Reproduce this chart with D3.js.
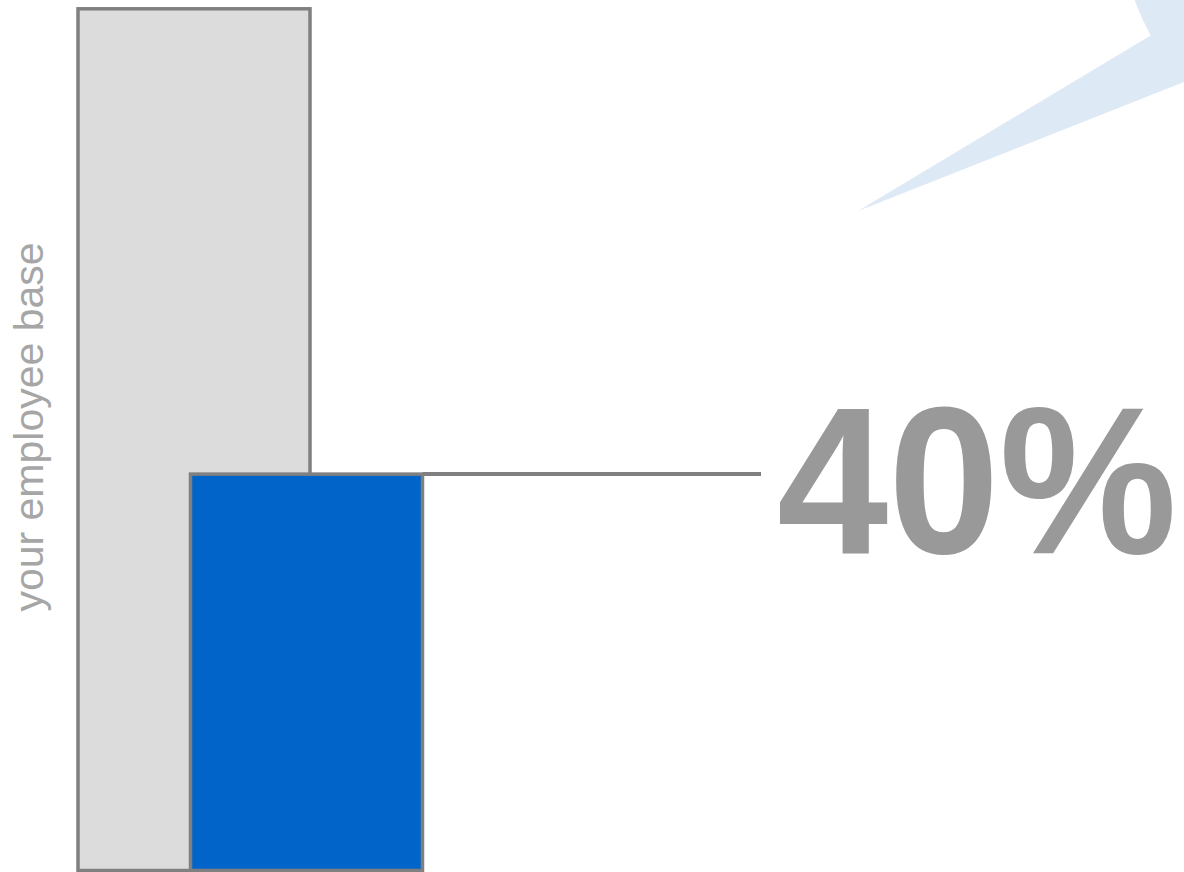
<!DOCTYPE html>
<html>
<head>
<meta charset="utf-8">
<script src="https://cdn.jsdelivr.net/npm/d3@7"></script>
<style>
  html, body { margin: 0; padding: 0; background: #fff; }
  svg { display: block; }
</style>
</head>
<body>
<div id="chart"></div>
<script>
// Chart data
const categories = ["your employee base", "share"];
const values = [100, 46];            // bar heights as drawn (percent of base)
const barColors = ["#dcdcdc", "#0064c9"];
const calloutLabel = "40%";
const axisLabel = "your employee base";

const width = 1184;
const height = 872;

const svg = d3.select("#chart")
  .append("svg")
  .attr("width", width)
  .attr("height", height);

// Speech bubble in the corner
const bubble = svg.append("g").attr("fill", "#dee9f6");
bubble.append("circle")
  .attr("cx", 1360)
  .attr("cy", -80)
  .attr("r", 239);
bubble.append("path")
  .attr("d", d3.line()([[858, 211], [1200, 6], [1260, 52]]) + "Z");

// Scales
const y = d3.scaleLinear()
  .domain([0, 100])
  .range([870.5, 8.8]);

const x = d3.scalePoint()
  .domain(categories)
  .range([78, 190.5]);

const barWidth = 232;

// Bars
svg.selectAll("rect.bar")
  .data(categories)
  .join("rect")
  .attr("class", "bar")
  .attr("x", d => x(d))
  .attr("y", (d, i) => y(values[i]))
  .attr("width", barWidth)
  .attr("height", (d, i) => y(0) - y(values[i]))
  .attr("fill", (d, i) => barColors[i])
  .attr("stroke", "#808080")
  .attr("stroke-width", 3.5);

// Leader line from the highlighted bar to the label
svg.append("line")
  .attr("x1", x(categories[1]) + barWidth)
  .attr("x2", 761)
  .attr("y1", y(values[1]))
  .attr("y2", y(values[1]))
  .attr("stroke", "#808080")
  .attr("stroke-width", 4);

// Big percent label (squeezed to the width it has in the original)
svg.append("text")
  .attr("x", 777)
  .attr("y", 553)
  .attr("font-family", "Liberation Sans, Arial, sans-serif")
  .attr("font-weight", "bold")
  .attr("font-size", 210)
  .attr("textLength", 400)
  .attr("lengthAdjust", "spacingAndGlyphs")
  .attr("fill", "#999999")
  .text(calloutLabel);

// Rotated axis label
svg.append("text")
  .attr("transform", "translate(43,427) rotate(-90)")
  .attr("text-anchor", "middle")
  .attr("font-family", "Liberation Sans, Arial, sans-serif")
  .attr("font-size", 41)
  .attr("fill", "#a6a6a6")
  .text(axisLabel);
</script>
</body>
</html>
